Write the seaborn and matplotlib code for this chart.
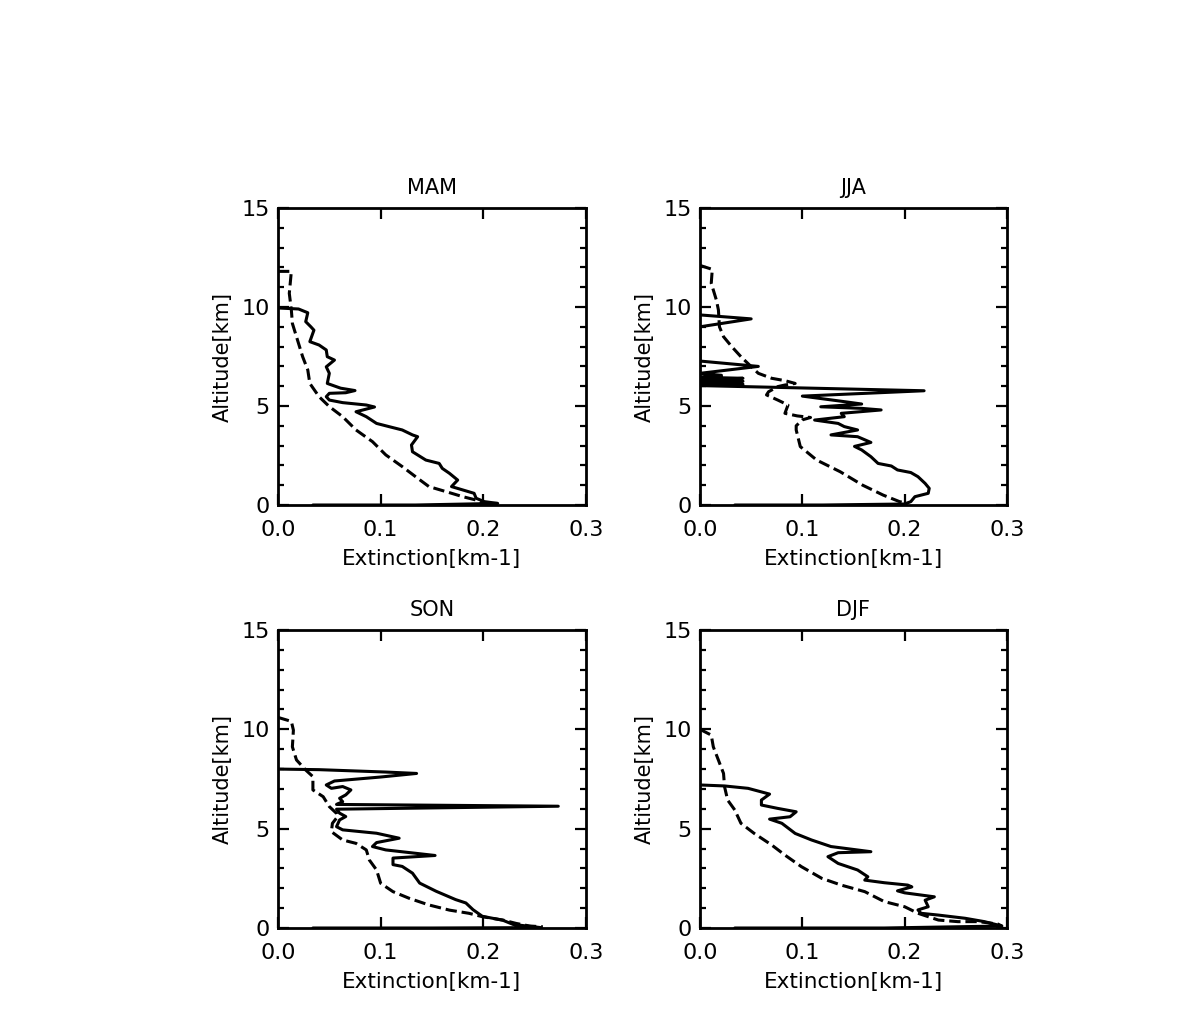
import matplotlib
matplotlib.use("Agg")
import matplotlib.pyplot as plt
import seaborn as sns
from matplotlib.ticker import MultipleLocator, FormatStrFormatter

# --- profiles (extinction in km-1, altitude in km) ---
mam_solid_alt = [9.95, 9.9, 9.71, 9.26, 9.0, 8.83, 8.25, 8.08, 7.83, 7.49, 7.32, 6.98, 6.65,
                 6.14, 5.9, 5.78, 5.67, 5.64, 5.47, 5.3, 5.17, 5.05, 4.95, 4.71, 4.46, 4.12,
                 3.96, 3.79, 3.54, 3.45, 3.03, 2.69, 2.27, 2.1, 1.85, 1.6, 1.26, 0.93, 0.76,
                 0.59, 0.34, 0.17, 0.08, 0.0, 0.0]
mam_solid_ext = [0.0, 0.02, 0.029, 0.027, 0.032, 0.035, 0.031, 0.040, 0.047, 0.048, 0.055,
                 0.047, 0.050, 0.048, 0.061, 0.075, 0.066, 0.050, 0.047, 0.050, 0.063, 0.086,
                 0.094, 0.076, 0.086, 0.096, 0.108, 0.121, 0.131, 0.136, 0.130, 0.131, 0.144,
                 0.157, 0.160, 0.167, 0.175, 0.169, 0.180, 0.191, 0.193, 0.201, 0.214, 0.134,
                 0.034]
mam_dash_alt = [11.8, 11.8, 10.69, 9.85, 9.17, 8.33, 7.49, 6.82, 6.14, 5.47, 4.97, 4.46, 3.79,
                3.2, 2.53, 1.94, 1.43, 0.93, 0.67, 0.42, 0.25, 0.05]
mam_dash_ext = [0.0, 0.013, 0.011, 0.013, 0.014, 0.019, 0.024, 0.029, 0.031, 0.040, 0.050,
                0.063, 0.076, 0.092, 0.105, 0.121, 0.134, 0.147, 0.164, 0.180, 0.193, 0.201]

jja_solid_alt = [9.6, 9.4, 9.0, 7.27, 7.0, 6.65, 6.55, 6.45, 6.4, 6.3, 6.25, 6.15, 6.1, 6.03,
                 5.77, 5.5, 5.22, 5.1, 4.96, 4.88, 4.8, 4.63, 4.46, 4.29, 4.12, 3.96, 3.79,
                 3.54, 3.45, 3.16, 2.96, 2.78, 2.44, 2.1, 1.97, 1.77, 1.64, 1.43, 1.09, 0.84,
                 0.59, 0.42, 0.17, 0.05, 0.0, 0.0]
jja_solid_ext = [0.0, 0.050, 0.0, 0.0, 0.057, 0.0, 0.021, 0.0, 0.042, 0.0, 0.042, 0.0, 0.042,
                 0.0, 0.219, 0.100, 0.141, 0.158, 0.118, 0.158, 0.177, 0.138, 0.141, 0.112,
                 0.135, 0.141, 0.154, 0.128, 0.154, 0.167, 0.151, 0.158, 0.167, 0.174, 0.187,
                 0.193, 0.206, 0.213, 0.220, 0.224, 0.223, 0.210, 0.206, 0.200, 0.120, 0.034]
jja_dash_alt = [12.1, 11.9, 11.2, 10.35, 9.85, 9.0, 8.5, 8.0, 7.49, 6.99, 6.65, 6.4, 6.28,
                6.14, 6.06, 5.98, 5.72, 5.56, 5.3, 5.05, 4.63, 4.5, 4.42, 4.3, 4.0, 3.79,
                2.95, 2.27, 1.68, 1.0, 0.5, 0.17, 0.08]
jja_dash_ext = [0.0, 0.012, 0.011, 0.016, 0.018, 0.019, 0.023, 0.031, 0.040, 0.050, 0.057,
                0.070, 0.083, 0.093, 0.083, 0.076, 0.067, 0.065, 0.076, 0.086, 0.083, 0.095,
                0.108, 0.100, 0.094, 0.094, 0.098, 0.114, 0.137, 0.159, 0.179, 0.195, 0.203]

son_solid_alt = [8.0, 7.97, 7.85, 7.78, 7.6, 7.4, 7.2, 7.03, 7.12, 6.95, 6.7, 6.53, 6.36,
                 6.22, 6.13, 5.98, 5.78, 5.61, 5.44, 5.1, 4.94, 4.77, 4.52, 4.3, 4.1, 3.93,
                 3.65, 3.52, 3.19, 3.1, 2.76, 2.26, 1.85, 1.43, 1.26, 0.92, 0.59, 0.39, 0.18,
                 0.02, 0.0, 0.0]
son_solid_ext = [0.0, 0.040, 0.105, 0.135, 0.100, 0.055, 0.047, 0.052, 0.063, 0.071, 0.066,
                 0.060, 0.063, 0.057, 0.273, 0.057, 0.060, 0.066, 0.060, 0.057, 0.063, 0.096,
                 0.118, 0.096, 0.092, 0.105, 0.153, 0.112, 0.112, 0.121, 0.131, 0.138, 0.154,
                 0.173, 0.183, 0.190, 0.199, 0.219, 0.229, 0.256, 0.150, 0.034]
son_dash_alt = [10.6, 10.4, 9.96, 9.12, 8.46, 7.95, 7.62, 6.95, 6.61, 6.11, 5.77, 5.6, 5.27,
                4.85, 4.43, 4.26, 3.93, 3.42, 2.92, 2.25, 1.83, 1.49, 1.16, 0.9, 0.74, 0.57,
                0.4, 0.23, 0.1, 0.06]
son_dash_ext = [0.0, 0.013, 0.015, 0.014, 0.018, 0.027, 0.034, 0.034, 0.044, 0.050, 0.057,
                0.058, 0.053, 0.052, 0.063, 0.076, 0.086, 0.089, 0.096, 0.100, 0.112, 0.128,
                0.147, 0.167, 0.186, 0.199, 0.219, 0.232, 0.245, 0.258]

djf_solid_alt = [7.2, 7.15, 7.03, 6.74, 6.44, 6.19, 6.02, 5.85, 5.6, 5.48, 5.27, 4.76, 4.43,
                 4.1, 3.84, 3.79, 3.59, 3.25, 2.92, 2.58, 2.41, 2.28, 2.16, 2.07, 1.87, 1.77,
                 1.57, 1.4, 1.07, 0.91, 0.74, 0.65, 0.49, 0.32, 0.1, 0.0, 0.0]
djf_solid_ext = [0.0, 0.024, 0.047, 0.068, 0.060, 0.060, 0.076, 0.094, 0.088, 0.068, 0.080,
                 0.093, 0.109, 0.128, 0.167, 0.135, 0.125, 0.135, 0.154, 0.164, 0.161, 0.180,
                 0.203, 0.207, 0.193, 0.200, 0.229, 0.220, 0.223, 0.213, 0.216, 0.233, 0.259,
                 0.278, 0.295, 0.180, 0.034]
djf_dash_alt = [10.0, 9.71, 9.12, 8.45, 7.78, 7.11, 6.44, 5.94, 5.27, 4.76, 4.18, 3.67, 3.09,
                2.5, 2.16, 1.83, 1.33, 1.07, 0.74, 0.4, 0.32, 0.32, 0.2, 0.1]
djf_dash_ext = [0.0, 0.011, 0.013, 0.018, 0.023, 0.024, 0.027, 0.034, 0.040, 0.053, 0.070,
                0.083, 0.099, 0.119, 0.138, 0.161, 0.180, 0.200, 0.213, 0.233, 0.252, 0.272,
                0.291, 0.295]

seasons = ["MAM", "JJA", "SON", "DJF"]
x_ticks = [0.0, 0.1, 0.2, 0.3]
y_ticks = [0, 5, 10, 15]

profiles = {
    "MAM": (mam_solid_ext, mam_solid_alt, mam_dash_ext, mam_dash_alt),
    "JJA": (jja_solid_ext, jja_solid_alt, jja_dash_ext, jja_dash_alt),
    "SON": (son_solid_ext, son_solid_alt, son_dash_ext, son_dash_alt),
    "DJF": (djf_solid_ext, djf_solid_alt, djf_dash_ext, djf_dash_alt),
}

sns.set_style("ticks")
plt.rcParams["font.family"] = ["DejaVu Sans"]
plt.rcParams["text.color"] = "black"
plt.rcParams["axes.labelcolor"] = "black"

W, H = 1190, 1021
fig = plt.figure(figsize=(W / 100, H / 100), dpi=100)

# pixel boxes of the four panels: left, top, right, bottom
boxes = {
    "MAM": (278, 208, 586, 505),
    "JJA": (700, 208, 1007, 505),
    "SON": (278, 630, 586, 928),
    "DJF": (700, 630, 1007, 928),
}

for s in seasons:
    l, t, r, b = boxes[s]
    ax = fig.add_axes([l / W, 1 - b / H, (r - l) / W, (b - t) / H])
    se, sa, de, da = profiles[s]
    sns.lineplot(x=se, y=sa, sort=False, estimator=None, color="black",
                 linewidth=2.2, ax=ax)
    sns.lineplot(x=de, y=da, sort=False, estimator=None, color="black",
                 linewidth=2.2, linestyle="--", ax=ax)

    ax.set_xlim(0, 0.3)
    ax.set_ylim(0, 15)
    ax.set_xticks(x_ticks)
    ax.set_yticks(y_ticks)
    ax.xaxis.set_major_formatter(FormatStrFormatter("%.1f"))
    ax.yaxis.set_minor_locator(MultipleLocator(1))
    ax.tick_params(which="both", direction="in", top=True, right=True,
                   width=1.6, labelsize=16, colors="black")
    ax.tick_params(which="major", length=8)
    ax.tick_params(which="minor", length=4)
    ax.tick_params(axis="x", pad=11)
    ax.tick_params(axis="y", pad=6)
    for sp in ax.spines.values():
        sp.set_linewidth(2)
        sp.set_color("black")

    ax.set_title(s, fontsize=15, pad=10, color="black")
    ax.set_xlabel("Extinction[km-1]", fontsize=15.5, labelpad=6)
    ax.set_ylabel("Altitude[km]", fontsize=15, labelpad=6)

fig.savefig("out.png", dpi=100, facecolor="white")
